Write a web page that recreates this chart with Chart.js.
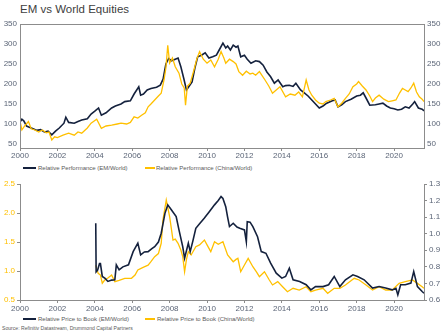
<!DOCTYPE html>
<html>
<head>
<meta charset="utf-8">
<script src="https://cdn.jsdelivr.net/npm/chart.js@4.4.1/dist/chart.umd.min.js"></script>
<style>
html, body { margin: 0; padding: 0; background: #fff; overflow: hidden; width: 444px; height: 333px; }
#wrap { position: relative; width: 444px; height: 333px; font-family: 'Liberation Sans', Arial, sans-serif; }
#title { position: absolute; left: 20px; top: 3px; font-size: 11.5px; line-height: 12px; color: #404040; white-space: nowrap; }
#source { position: absolute; left: 2px; top: 325px; font-size: 5.1px; line-height: 6px; color: #595959; white-space: nowrap; }
#perfChart { position: absolute; left: 0; top: 0; }
#pbChart { position: absolute; left: 0; top: 176px; }
.sw { position: absolute; height: 1.5px; }
.lt { position: absolute; font-size: 6px; line-height: 6px; color: #595959; white-space: nowrap; }
</style>
</head>
<body>
<div id="wrap">
  <div id="title">EM vs World Equities</div>
  <canvas id="perfChart" width="444" height="162"></canvas>
  <canvas id="pbChart" width="444" height="138"></canvas>
  <div id="perfLegend"></div>
  <div id="pbLegend"></div>
  <div id="source">Source: Refinitiv Datastream, Drummond Capital Partners</div>
</div>
<script>
const NAVY = '#14213d';
const GOLD = '#ffc000';
const TICK = '#5b6577';
const AXIS = '#8c8c8c';

// ---- top panel: relative performance (rebased) ----
const emPerfYears = [
  2000.0, 2000.1, 2000.2, 2000.35, 2000.5, 2000.7, 2000.9, 2001.1, 2001.3, 2001.5,
  2001.7, 2001.9, 2002.1, 2002.35, 2002.45, 2002.6, 2002.9, 2003.1, 2003.3, 2003.6,
  2003.8, 2004.0, 2004.2, 2004.35, 2004.6, 2004.9, 2005.1, 2005.4, 2005.6, 2005.9,
  2006.1, 2006.35, 2006.45, 2006.6, 2006.8, 2007.0, 2007.3, 2007.5, 2007.65, 2007.8,
  2007.95, 2008.1, 2008.3, 2008.45, 2008.6, 2008.75, 2008.9, 2009.05, 2009.2, 2009.35,
  2009.5, 2009.7, 2009.9, 2010.1, 2010.3, 2010.5, 2010.65, 2010.85, 2011.0, 2011.1,
  2011.25, 2011.4, 2011.55, 2011.65, 2011.8, 2012.0, 2012.15, 2012.35, 2012.6, 2012.8,
  2013.0, 2013.2, 2013.4, 2013.6, 2013.8, 2014.05, 2014.2, 2014.4, 2014.6, 2014.75,
  2015.0, 2015.2, 2015.4, 2015.6, 2015.8, 2016.0, 2016.2, 2016.4, 2016.7, 2016.85,
  2017.0, 2017.2, 2017.4, 2017.7, 2018.0, 2018.2, 2018.35, 2018.5, 2018.7, 2019.0,
  2019.2, 2019.4, 2019.6, 2019.8, 2020.0, 2020.2, 2020.4, 2020.6, 2020.8, 2021.0,
  2021.1, 2021.3, 2021.5, 2021.6
];
const emPerf = [
  105, 112, 108, 95, 92, 88, 84, 86, 80, 82,
  73, 82, 90, 102, 117, 104, 102, 106, 110, 113,
  125, 132, 140, 122, 128, 140, 145, 150, 156, 158,
  175, 193, 172, 175, 185, 189, 192, 197, 212, 250,
  264, 258, 262, 265, 243, 215, 185, 195, 205, 240,
  268, 272, 278, 265, 268, 272, 285, 302, 290, 295,
  285, 297, 292, 295, 268, 272, 262, 252, 258, 256,
  247, 230, 218, 202, 210, 193, 196, 197, 194, 202,
  185, 178, 170, 160, 150, 140, 145, 152, 158, 160,
  143, 148, 156, 162, 170, 172, 178, 165, 147, 148,
  150, 152, 145, 140, 138, 135, 137, 143, 140, 150,
  156, 140, 137, 133
];
const chinaPerfYears = [
  2000.0, 2000.1, 2000.25, 2000.45, 2000.6, 2000.8, 2001.0, 2001.2, 2001.4, 2001.55,
  2001.7, 2001.85, 2002.0, 2002.3, 2002.6, 2002.9, 2003.1, 2003.3, 2003.6, 2003.8,
  2004.1, 2004.35, 2004.6, 2004.9, 2005.2, 2005.4, 2005.7, 2005.9, 2006.1, 2006.3,
  2006.5, 2006.7, 2006.85, 2007.0, 2007.2, 2007.4, 2007.55, 2007.7, 2007.8, 2007.9,
  2008.0, 2008.15, 2008.3, 2008.5, 2008.65, 2008.78, 2008.85, 2008.95, 2009.1, 2009.3,
  2009.45, 2009.6, 2009.8, 2010.0, 2010.2, 2010.4, 2010.6, 2010.75, 2010.9, 2011.0,
  2011.2, 2011.4, 2011.55, 2011.7, 2011.9, 2012.1, 2012.3, 2012.45, 2012.6, 2012.8,
  2013.1, 2013.3, 2013.5, 2013.7, 2013.9, 2014.2, 2014.45, 2014.7, 2014.9, 2015.1,
  2015.3, 2015.45, 2015.6, 2015.8, 2016.0, 2016.2, 2016.35, 2016.6, 2016.8, 2017.0,
  2017.2, 2017.4, 2017.6, 2017.8, 2018.0, 2018.1, 2018.3, 2018.5, 2018.7, 2018.85,
  2019.0, 2019.2, 2019.45, 2019.7, 2019.9, 2020.1, 2020.3, 2020.45, 2020.6, 2020.75,
  2020.9, 2021.05, 2021.2, 2021.35, 2021.5, 2021.6
];
const chinaPerf = [
  108, 85, 95, 106, 88, 85, 80, 85, 78, 80,
  60, 68, 66, 72, 77, 72, 80, 77, 90, 102,
  112, 89, 95, 97, 100, 102, 100, 104, 118, 115,
  122, 128, 143, 150, 160, 170, 177, 210, 240, 297,
  252, 265, 243, 227, 200, 190, 147, 195, 202, 235,
  262, 281, 262, 252, 260, 243, 262, 281, 265, 252,
  262, 256, 250, 231, 222, 232, 225, 227, 222, 231,
  210, 195, 177, 185, 193, 168, 175, 172, 180, 168,
  210, 185, 172, 160, 152, 150, 156, 160, 164, 143,
  152, 164, 175, 193, 200, 206, 195, 185, 170, 156,
  165, 172, 162, 156, 158, 160, 178, 189, 185, 181,
  190, 202, 180, 168, 162, 156
];

// ---- bottom panel: relative price to book ----
const emPbYears = [
  2004.05, 2004.07, 2004.15, 2004.25, 2004.3, 2004.4, 2004.55, 2004.7, 2004.9, 2005.07,
  2005.15, 2005.3, 2005.5, 2005.8, 2006.05, 2006.3, 2006.45, 2006.65, 2006.85, 2007.05,
  2007.2, 2007.4, 2007.55, 2007.75, 2007.9, 2008.1, 2008.35, 2008.5, 2008.7, 2008.8,
  2009.0, 2009.1, 2009.25, 2009.4, 2009.6, 2009.85, 2010.1, 2010.4, 2010.6, 2010.75,
  2010.85, 2011.0, 2011.1, 2011.2, 2011.4, 2011.6, 2011.75, 2012.0, 2012.1, 2012.15,
  2012.3, 2012.45, 2012.7, 2012.9, 2013.15, 2013.4, 2013.7, 2014.0, 2014.2, 2014.4,
  2014.6, 2014.95, 2015.3, 2015.55, 2015.8, 2016.2, 2016.5, 2016.8, 2017.1, 2017.4,
  2017.8, 2018.05, 2018.4, 2018.85, 2019.2, 2019.55, 2019.9, 2020.1, 2020.2, 2020.35,
  2020.6, 2020.9, 2021.05, 2021.25, 2021.5, 2021.6
];
const emPb = [
  1.063, 0.77, 0.78, 0.82, 0.82, 0.742, 0.73, 0.712, 0.72, 0.722,
  0.812, 0.782, 0.80, 0.812, 0.892, 0.943, 0.872, 0.89, 0.892, 0.91,
  0.922, 0.95, 1.003, 1.123, 1.174, 1.143, 1.103, 1.023, 0.922, 0.852,
  0.943, 0.892, 0.96, 1.033, 1.06, 1.093, 1.13, 1.174, 1.2, 1.224,
  1.213, 1.163, 1.1, 1.043, 1.063, 1.04, 1.033, 1.023, 0.952, 1.073,
  1.07, 1.043, 0.982, 0.892, 0.882, 0.822, 0.762, 0.732, 0.742, 0.792,
  0.722, 0.712, 0.692, 0.661, 0.681, 0.681, 0.692, 0.742, 0.681, 0.722,
  0.752, 0.742, 0.722, 0.672, 0.681, 0.672, 0.661, 0.67, 0.631, 0.692,
  0.692, 0.702, 0.772, 0.681, 0.651, 0.641
];
const chinaPbYears = [
  2004.05, 2004.18, 2004.3, 2004.4, 2004.53, 2004.7, 2004.9, 2005.07, 2005.3, 2005.6,
  2005.96, 2006.15, 2006.3, 2006.5, 2006.67, 2006.85, 2007.0, 2007.2, 2007.4, 2007.55,
  2007.64, 2007.82, 2008.0, 2008.18, 2008.3, 2008.45, 2008.6, 2008.7, 2008.8, 2008.9,
  2009.0, 2009.15, 2009.4, 2009.6, 2009.86, 2010.0, 2010.2, 2010.4, 2010.6, 2010.85,
  2011.1, 2011.4, 2011.55, 2011.65, 2011.8, 2012.0, 2012.2, 2012.45, 2012.65, 2012.8,
  2013.07, 2013.33, 2013.5, 2013.78, 2014.04, 2014.3, 2014.6, 2014.93, 2015.3, 2015.55,
  2015.8, 2016.2, 2016.45, 2016.8, 2017.1, 2017.4, 2017.87, 2018.13, 2018.5, 2018.85,
  2019.2, 2019.55, 2019.9, 2020.27, 2020.6, 2020.98, 2021.25, 2021.5, 2021.6
];
const chinaPb = [
  1.10, 0.96, 0.93, 0.79, 0.845, 0.88, 0.931, 0.816, 0.84, 0.874,
  0.874, 0.93, 1.017, 1.05, 1.074, 1.1, 1.16, 1.246, 1.3, 1.478,
  1.879, 2.224, 1.936, 1.534, 1.55, 1.478, 1.362, 1.25, 0.988, 1.2,
  1.333, 1.276, 1.419, 1.45, 1.534, 1.45, 1.333, 1.505, 1.46, 1.505,
  1.276, 1.16, 1.2, 1.218, 0.988, 1.103, 1.218, 1.074, 0.98, 0.902,
  0.988, 0.845, 0.759, 0.816, 0.729, 0.643, 0.702, 0.672, 0.729, 0.643,
  0.672, 0.702, 0.616, 0.702, 0.702, 0.759, 0.874, 0.845, 0.759, 0.672,
  0.729, 0.672, 0.672, 0.787, 0.816, 0.845, 0.787, 0.729, 0.702
];

function toPoints(xs, ys) {
  return xs.map((x, i) => ({ x: x, y: ys[i] }));
}

Chart.defaults.font.family = "'Liberation Sans', Arial, sans-serif";
Chart.defaults.color = TICK;

// box round the top plot area
const frame = {
  id: 'frame',
  afterDraw(chart) {
    const a = chart.chartArea;
    const ctx = chart.ctx;
    ctx.save();
    ctx.strokeStyle = AXIS;
    ctx.lineWidth = 1;
    ctx.strokeRect(Math.round(a.left) + 0.5, Math.round(a.top) + 0.5,
                   Math.round(a.right - a.left), Math.round(a.bottom - a.top));
    ctx.restore();
  }
};

// legend rows as html, built from the chart's datasets
function htmlLegend(chart, holderId, top, spots) {
  const holder = document.getElementById(holderId);
  chart.data.datasets.forEach((ds, i) => {
    const s = spots[i];
    const sw = document.createElement('span');
    sw.className = 'sw';
    sw.style.left = s[0] + 'px';
    sw.style.width = s[1] + 'px';
    sw.style.top = (top - 0.75) + 'px';
    sw.style.background = ds.borderColor;
    const t = document.createElement('span');
    t.className = 'lt';
    t.style.left = s[2] + 'px';
    t.style.top = (top - 3) + 'px';
    t.textContent = ds.label;
    holder.appendChild(sw);
    holder.appendChild(t);
  });
}

const xTicks = {
  stepSize: 2, includeBounds: false, autoSkip: false, maxRotation: 0,
  font: { size: 8 }, color: TICK, callback: v => String(v)
};

const perfChart = new Chart(document.getElementById('perfChart'), {
  type: 'line',
  data: {
    datasets: [{
      label: 'Relative Performance (EM/World)',
      data: toPoints(emPerfYears, emPerf),
      borderColor: NAVY, borderWidth: 1.6, pointRadius: 0, tension: 0,
      yAxisID: 'y', order: 1
    }, {
      label: 'Relative Performance (China/World)',
      data: toPoints(chinaPerfYears, chinaPerf),
      borderColor: GOLD, borderWidth: 1.3, pointRadius: 0, tension: 0,
      yAxisID: 'y', order: 0
    }]
  },
  options: {
    responsive: false,
    animation: false,
    events: [],
    layout: { autoPadding: false, padding: { top: 24, left: 0, right: 0, bottom: 0 } },
    plugins: { legend: { display: false }, tooltip: { enabled: false } },
    scales: {
      x: {
        type: 'linear', min: 2000, max: 2021.6,
        afterFit: s => { s.height = 14; },
        border: { display: false },
        grid: { display: true, drawOnChartArea: false, drawTicks: true, tickLength: 3, color: AXIS },
        ticks: Object.assign({ padding: 0 }, xTicks)
      },
      y: {
        position: 'left', min: 40, max: 350,
        afterFit: s => { s.width = 20; },
        border: { display: false },
        grid: { display: false, drawTicks: false },
        ticks: { stepSize: 50, includeBounds: false, padding: 3, font: { size: 8 }, color: TICK }
      },
      y2: {
        position: 'right', min: 40, max: 350,
        afterFit: s => { s.width = 20; },
        border: { display: false },
        grid: { display: false, drawTicks: false },
        ticks: { stepSize: 50, includeBounds: false, padding: 3, font: { size: 8 }, color: TICK }
      }
    }
  },
  plugins: [frame]
});

const pbChart = new Chart(document.getElementById('pbChart'), {
  type: 'line',
  data: {
    datasets: [{
      label: 'Relative Price to Book (EM/World)',
      data: toPoints(emPbYears, emPb),
      borderColor: NAVY, borderWidth: 1.6, pointRadius: 0, tension: 0,
      yAxisID: 'y2'
    }, {
      label: 'Relative Price to Book (China/World)',
      data: toPoints(chinaPbYears, chinaPb),
      borderColor: GOLD, borderWidth: 1.3, pointRadius: 0, tension: 0,
      yAxisID: 'y'
    }]
  },
  options: {
    responsive: false,
    animation: false,
    events: [],
    layout: { autoPadding: false, padding: { top: 8, left: 0, right: 0, bottom: 0 } },
    plugins: { legend: { display: false }, tooltip: { enabled: false } },
    scales: {
      x: {
        type: 'linear', min: 2000, max: 2021.6,
        afterFit: s => { s.height = 14; },
        border: { display: true, color: AXIS, width: 1 },
        grid: { display: true, drawOnChartArea: false, drawTicks: true, tickLength: 3, color: AXIS },
        ticks: Object.assign({ padding: 1 }, xTicks)
      },
      y: {
        position: 'left', min: 0.5, max: 2.5,
        afterFit: s => { s.width = 20; },
        border: { display: true, color: AXIS, width: 1 },
        grid: { display: true, drawOnChartArea: false, drawTicks: true, tickLength: 3, color: AXIS },
        ticks: { stepSize: 0.5, includeBounds: false, padding: 2, font: { size: 8 }, color: GOLD,
                 callback: v => v.toFixed(1) }
      },
      y2: {
        position: 'right', min: 0.6, max: 1.3,
        afterFit: s => { s.width = 20; },
        border: { display: true, color: AXIS, width: 1 },
        grid: { display: true, drawOnChartArea: false, drawTicks: true, tickLength: 3, color: AXIS },
        ticks: { stepSize: 0.1, includeBounds: false, padding: 2, font: { size: 8 }, color: TICK,
                 callback: v => v.toFixed(1) }
      }
    }
  }
});

htmlLegend(perfChart, 'perfLegend', 168, [[23, 13, 38], [145, 10, 156]]);
htmlLegend(pbChart, 'pbLegend', 319, [[23, 13, 38], [145, 10, 157]]);
</script>
</body>
</html>
